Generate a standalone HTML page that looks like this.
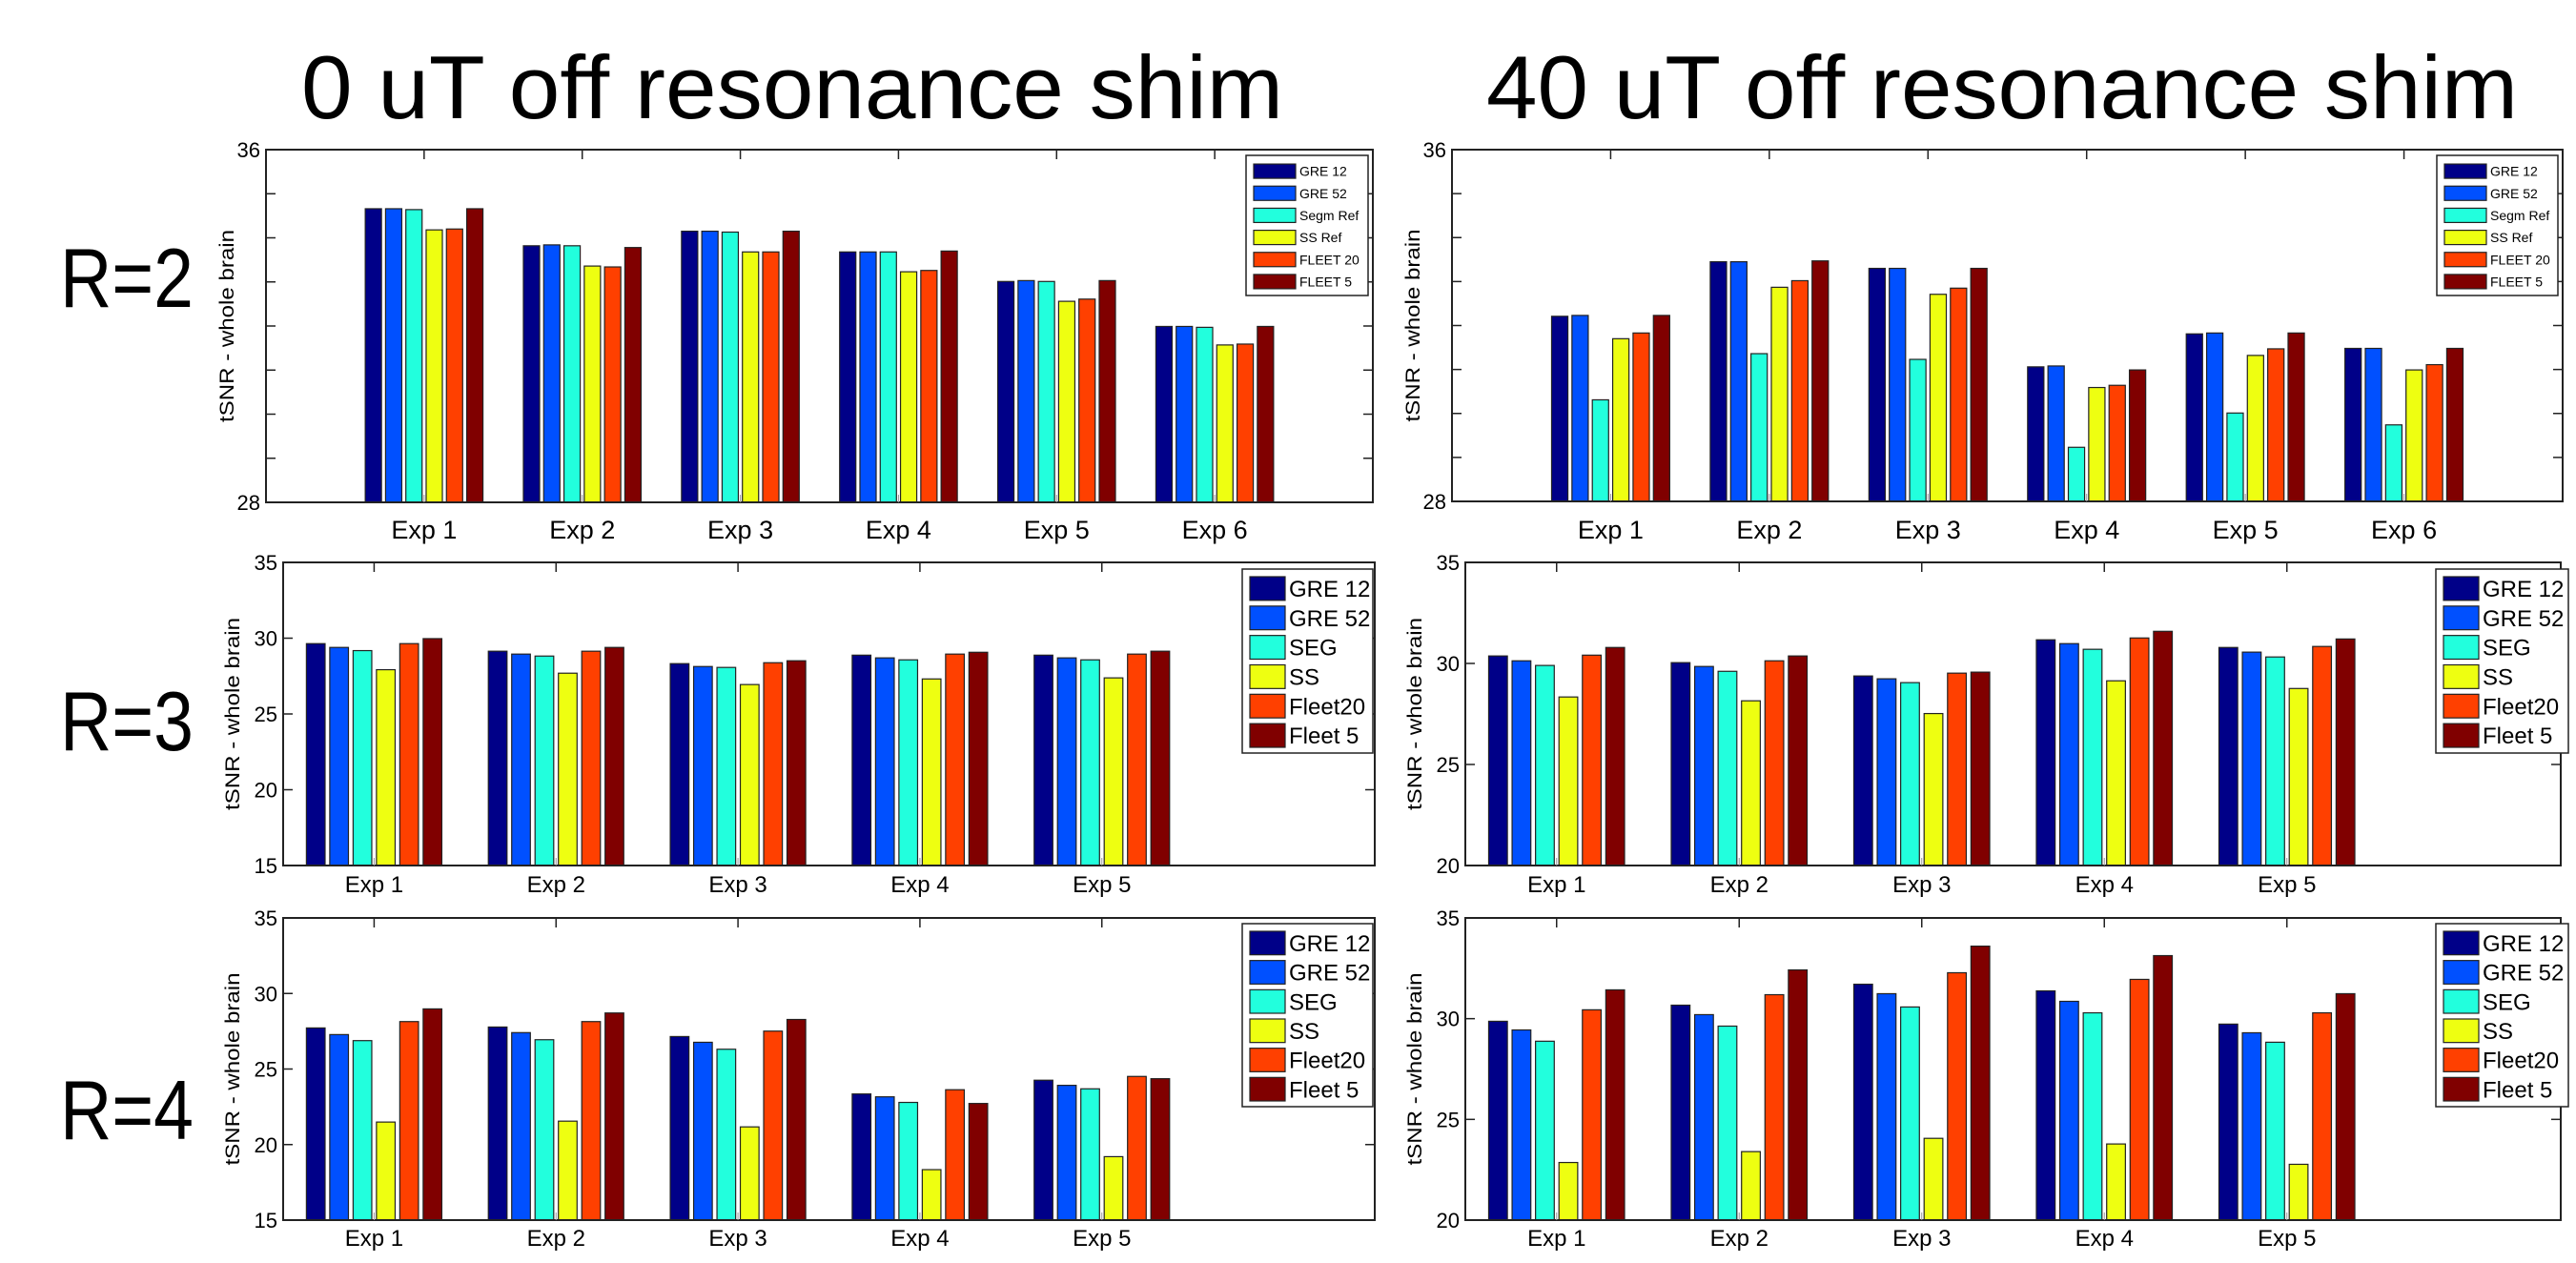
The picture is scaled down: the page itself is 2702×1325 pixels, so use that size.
<!DOCTYPE html>
<html><head><meta charset="utf-8"><style>
html,body{margin:0;padding:0;background:#fff;}
svg{display:block;}
text{font-family:"Liberation Sans",sans-serif;}
</style></head><body>
<svg id="fig" width="2702" height="1325" viewBox="0 0 2702 1325" xmlns="http://www.w3.org/2000/svg">
<rect width="2702" height="1325" fill="#fff"/>
<text x="316" y="124" font-size="94" textLength="1030" lengthAdjust="spacingAndGlyphs">0 uT off resonance shim</text>
<text x="1559" y="124" font-size="94" textLength="1082" lengthAdjust="spacingAndGlyphs">40 uT off resonance shim</text>
<text x="63" y="322" font-size="88" textLength="140" lengthAdjust="spacingAndGlyphs">R=2</text>
<text x="63" y="787" font-size="88" textLength="140" lengthAdjust="spacingAndGlyphs">R=3</text>
<text x="63" y="1195" font-size="88" textLength="140" lengthAdjust="spacingAndGlyphs">R=4</text>
</svg>
<script>
const seriesTop = ["GRE 12","GRE 52","Segm Ref","SS Ref","FLEET 20","FLEET 5"];
const seriesLow = ["GRE 12","GRE 52","SEG","SS","Fleet20","Fleet 5"];
const colors = ["#000088","#0050ff","#22ffdd","#eeff11","#ff4000","#800000"];
const cats6 = ["Exp 1","Exp 2","Exp 3","Exp 4","Exp 5","Exp 6"];
const cats5 = ["Exp 1","Exp 2","Exp 3","Exp 4","Exp 5"];
const r2_0uT = [[34.66,34.66,34.64,34.18,34.20,34.66],[33.82,33.84,33.82,33.36,33.34,33.78],[34.15,34.15,34.13,33.68,33.68,34.15],[33.68,33.68,33.68,33.23,33.26,33.70],[33.01,33.03,33.01,32.56,32.61,33.03],[31.99,31.99,31.97,31.57,31.59,31.99]];
const r2_40uT = [[32.21,32.23,30.31,31.70,31.83,32.23],[33.45,33.45,31.36,32.87,33.02,33.47],[33.30,33.30,31.23,32.71,32.85,33.30],[31.06,31.08,29.23,30.59,30.64,30.99],[31.81,31.83,30.01,31.32,31.47,31.83],[31.48,31.48,29.74,30.99,31.11,31.48]];
const r3_0uT = [[29.64,29.39,29.18,27.92,29.64,29.97],[29.14,28.95,28.82,27.69,29.14,29.39],[28.32,28.13,28.07,26.94,28.38,28.51],[28.88,28.70,28.57,27.31,28.95,29.07],[28.88,28.70,28.57,27.38,28.95,29.14]];
const r3_40uT = [[30.37,30.13,29.90,28.34,30.41,30.79],[30.04,29.85,29.61,28.15,30.13,30.37],[29.38,29.24,29.05,27.52,29.52,29.57],[31.17,30.98,30.70,29.14,31.26,31.59],[30.79,30.56,30.32,28.76,30.84,31.21]];
const r4_0uT = [[27.72,27.28,26.88,21.49,28.14,28.98],[27.78,27.41,26.94,21.55,28.14,28.71],[27.15,26.77,26.31,21.17,27.51,28.28],[23.35,23.16,22.79,18.34,23.63,22.72],[24.26,23.92,23.69,19.20,24.51,24.36]];
const r4_40uT = [[29.87,29.44,28.88,22.86,30.44,31.43],[30.67,30.20,29.63,23.40,31.19,32.42],[31.71,31.24,30.58,24.06,32.28,33.60],[31.38,30.86,30.29,23.78,31.95,33.13],[29.73,29.30,28.83,22.77,30.29,31.24]];
const yTicksTop = [28,29,30,31,32,33,34,35,36];
const yLabelsTop = ["28","","","","","","","","36"];
const yTicksR3L = [15,20,25,30,35];
const yTicksR3R = [20,25,30,35];

const NS="http://www.w3.org/2000/svg";
const svg=document.getElementById('fig');
function mk(tag,attrs,parent){const e=document.createElementNS(NS,tag);for(const k in attrs)e.setAttribute(k,attrs[k]);(parent||svg).appendChild(e);return e;}

const panels=[
 {name:'r2-0ut',x0:279,x1:1440,y0:157,y1:527,ymin:28,ymax:36,xmin:0,xmax:7,data:r2_0uT,cats:cats6,ticks:yTicksTop,tl:yLabelsTop,series:seriesTop,small:true,lg:[1307,163,1435,310],tickFs:22,xlabY:565},
 {name:'r2-40ut',x0:1523,x1:2688,y0:157,y1:526,ymin:28,ymax:36,xmin:0,xmax:7,data:r2_40uT,cats:cats6,ticks:yTicksTop,tl:yLabelsTop,series:seriesTop,small:true,lg:[2556,163,2683,310],tickFs:22,xlabY:565},
 {name:'r3-0ut',x0:297,x1:1442,y0:590,y1:908,ymin:15,ymax:35,xmin:0.5,xmax:6.5,data:r3_0uT,cats:cats5,ticks:yTicksR3L,tl:null,series:seriesLow,small:false,lg:[1303,597,1440,790],tickFs:22,xlabY:936},
 {name:'r3-40ut',x0:1537,x1:2686,y0:590,y1:908,ymin:20,ymax:35,xmin:0.5,xmax:6.5,data:r3_40uT,cats:cats5,ticks:yTicksR3R,tl:null,series:seriesLow,small:false,lg:[2555,597,2694,790],tickFs:22,xlabY:936},
 {name:'r4-0ut',x0:297,x1:1442,y0:963,y1:1280,ymin:15,ymax:35,xmin:0.5,xmax:6.5,data:r4_0uT,cats:cats5,ticks:yTicksR3L,tl:null,series:seriesLow,small:false,lg:[1303,969,1440,1161],tickFs:22,xlabY:1307},
 {name:'r4-40ut',x0:1537,x1:2686,y0:963,y1:1280,ymin:20,ymax:35,xmin:0.5,xmax:6.5,data:r4_40uT,cats:cats5,ticks:yTicksR3R,tl:null,series:seriesLow,small:false,lg:[2555,969,2694,1161],tickFs:22,xlabY:1307}
];

panels.forEach(p=>{
 const g=mk('g',{});
 
 
 const sx=v=>p.x0+(v-p.xmin)/(p.xmax-p.xmin)*(p.x1-p.x0);
 const sy=v=>p.y1-(v-p.ymin)/(p.ymax-p.ymin)*(p.y1-p.y0);
 const unit=sx(1)-sx(0);
 const groupW=0.77, ns=6, slot=groupW/ns, bw=slot*0.8;
 p.data.forEach((grp,i)=>{
  grp.forEach((v,j)=>{
   const cx=(i+1)-groupW/2+slot*(j+0.5);
   const r=mk('rect',{x:sx(cx-bw/2),y:sy(v),width:bw*unit,height:sy(p.ymin)-sy(v),fill:colors[j],stroke:'#222','stroke-width':1.2},g);
   
   
  });
 });
 const box=mk('rect',{x:p.x0,y:p.y0,width:p.x1-p.x0,height:p.y1-p.y0,fill:'none',stroke:'#222','stroke-width':2},g);
 
 
 p.ticks.forEach((t,k)=>{
  const y=sy(t);
  mk('line',{x1:p.x0,x2:p.x0+10,y1:y,y2:y,stroke:'#222','stroke-width':1.5},g);
  mk('line',{x1:p.x1,x2:p.x1-10,y1:y,y2:y,stroke:'#222','stroke-width':1.5},g);
  const lab=p.tl?p.tl[k]:String(t);
  if(lab){const tx=mk('text',{x:p.x0-6,y:y+8,'font-size':p.tickFs,'text-anchor':'end'},g);tx.textContent=lab;
   
   }
 });
 p.cats.forEach((c,i)=>{
  const x=sx(i+1);
  mk('line',{x1:x,x2:x,y1:p.y0,y2:p.y0+10,stroke:'#222','stroke-width':1.5},g);
  mk('line',{x1:x,x2:x,y1:p.y1,y2:p.y1-8,stroke:'#999','stroke-width':1},g);
  const tx=mk('text',{x:x,y:p.xlabY,'font-size':p.small?27:24,'text-anchor':'middle'},g);tx.textContent=c;
  
  
 });
 const lx=p.x0-(p.small?34:46), ly=(p.y0+p.y1)/2;
 const yl=mk('text',{x:lx,y:ly,'font-size':21,'text-anchor':'middle',transform:'rotate(-90 '+lx+' '+ly+')',textLength:202,lengthAdjust:'spacingAndGlyphs'},g);
 yl.textContent='tSNR - whole brain';
 
 
 const [lx0,ly0,lx1,ly1]=p.lg;
 const lg=mk('g',{},g);
 
 
 mk('rect',{x:lx0,y:ly0,width:lx1-lx0,height:ly1-ly0,fill:'#fff',stroke:'#222','stroke-width':1.5},lg);
 const eh=(ly1-ly0-8)/6;
 p.series.forEach((s,j)=>{
  const ey=ly0+5+eh*j;
  const sw=p.small?{x:lx0+8,w:44,h:15,fs:14}:{x:lx0+8,w:37,h:eh-6,fs:24};
  const e=mk('g',{},lg);
  
  
  mk('rect',{x:sw.x,y:ey+(eh-sw.h)/2,width:sw.w,height:sw.h,fill:colors[j],stroke:'#222','stroke-width':1.2},e);
  const t=mk('text',{x:sw.x+sw.w+4,y:ey+eh/2+sw.fs*0.36,'font-size':sw.fs},e);
  t.textContent=s;
 });
});
</script>
</body></html>
